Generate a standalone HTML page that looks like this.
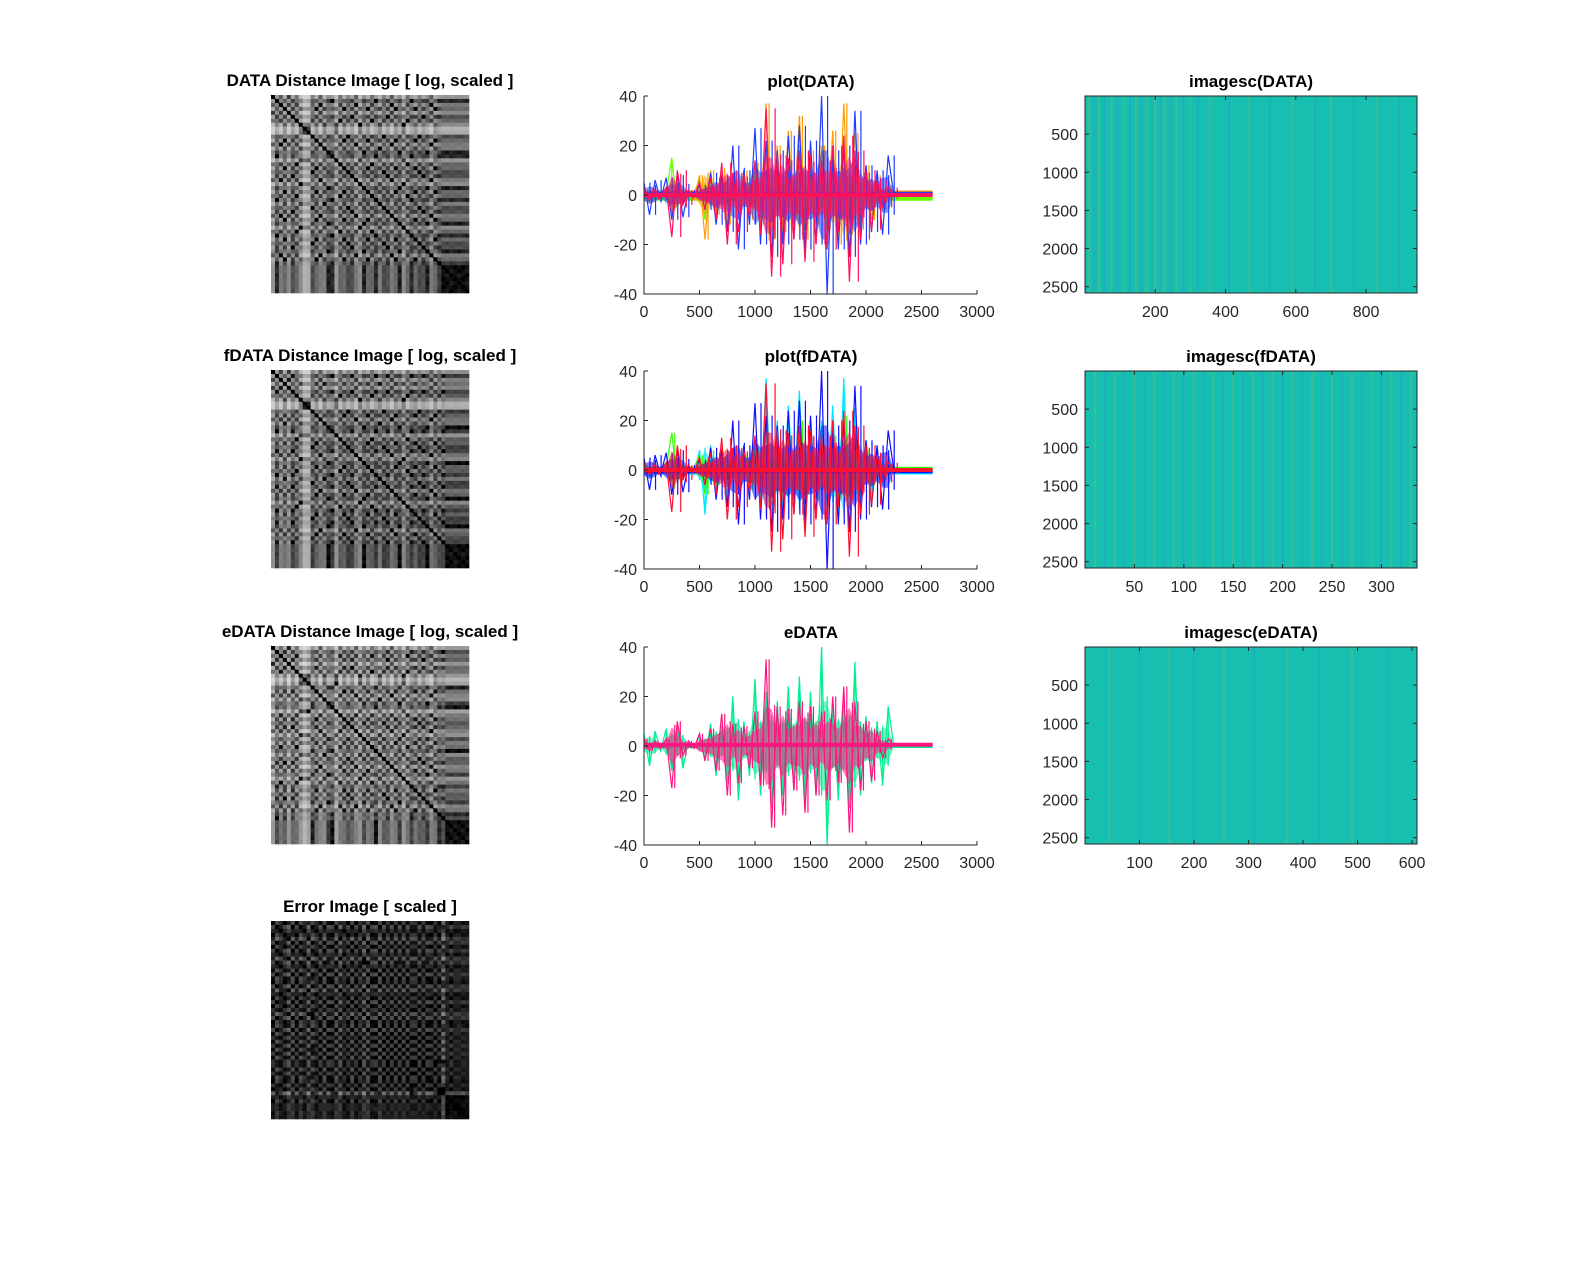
<!DOCTYPE html>
<html><head><meta charset="utf-8"><style>
html,body{margin:0;padding:0;background:#fff;overflow:hidden;}
svg{display:block;font-family:"Liberation Sans",Arial,sans-serif;}
.t{font-weight:bold;font-size:17px;fill:#000;text-anchor:middle;}
.tk{font-size:16px;fill:#262626;}
</style></head><body>
<svg id="fig" width="1583" height="1270" viewBox="0 0 1583 1270" xmlns="http://www.w3.org/2000/svg">
<rect width="1583" height="1270" fill="#fff"/>
</svg>
<script>
// ---------- data ----------
const lineX = [0,50,100,150,200,250,300,350,400,450,500,550,600,650,700,750,800,850,900,950,1000,1050,1100,1150,1200,1250,1300,1350,1400,1450,1500,1550,1600,1650,1700,1750,1800,1850,1900,1950,2000,2050,2100,2150,2200,2250];
const seriesBlue = [5,-8,6,-2,7,-10,8,-9,2,-1,4,-6,9,-12,8,-15,20,-22,10,-12,27,-20,22,-25,18,-20,24,-18,28,-22,22,-20,40,-40,18,-22,20,-25,34,-20,12,-15,10,-16,16,0];
const seriesOrange = [2,-3,2,-1,3,-4,3,-2,1,-2,8,-18,10,-8,11,-12,6,-8,10,-10,13,-12,37,-18,20,-15,26,-10,32,-18,18,-12,20,-14,26,-20,37,-16,25,-14,12,-10,8,-6,4,0];
const seriesRed = [3,-2,2,-1,3,-17,10,-4,2,-1,5,-6,7,-10,13,-20,9,-15,8,-9,14,-16,35,-33,16,-28,15,-18,18,-27,16,-20,14,-22,20,-15,24,-35,18,-18,10,-14,6,-5,3,0];
const seriesGreen = [2,-1,1,0,1,15,-5,2,-1,1,6,-10,8,-6,5,-4,3,-5,6,-8,9,-6,10,-8,12,-10,12,-8,20,-10,14,-12,10,-8,14,-12,22,-12,12,-10,8,-6,5,-4,2,0];
const yTicks = [-40,-20,0,20,40];
const xTicks = [0,500,1000,1500,2000,2500,3000];

const featData = [0.2,0.5,0.3,0.6,0.25,0.55,0.35,0.7,0.9,0.85,0.4,0.6,0.3,0.65,0.45,0.5,0.75,0.35,0.6,0.4,0.55,0.3,0.7,0.45,0.6,0.35,0.5,0.65,0.4,0.55,0.3,0.6,0.45,0.7,0.35,0.5,0.6,0.4,0.55,0.45,0.3,0.6,0.52,0.47,0.46,0.48,0.47,0.46,0.47,0.48];
const featF = [0.22,0.52,0.28,0.62,0.27,0.53,0.37,0.68,0.88,0.86,0.42,0.58,0.32,0.63,0.47,0.52,0.73,0.37,0.58,0.42,0.53,0.32,0.68,0.47,0.58,0.37,0.52,0.63,0.42,0.53,0.32,0.58,0.47,0.68,0.37,0.52,0.58,0.42,0.53,0.47,0.32,0.58,0.4,0.53,0.47,0.46,0.48,0.47,0.46,0.47];
const featE = [0.18,0.55,0.32,0.58,0.2,0.6,0.33,0.75,0.92,0.8,0.45,0.62,0.27,0.7,0.42,0.48,0.8,0.3,0.62,0.38,0.6,0.28,0.73,0.4,0.65,0.33,0.47,0.7,0.37,0.58,0.27,0.64,0.42,0.74,0.32,0.53,0.63,0.37,0.58,0.42,0.28,0.63,0.5,0.55,0.47,0.46,0.48,0.47,0.46,0.48];

const stripesData = [12,25,40,55,75,92,110,128,145,160,175,190,200,215,225,245,260,280,300,320,355,410,465,525,590,655,700,765,830,895];
const stripesF = [10,20,30,40,50,60,70,80,90,100,110,120,130,140,150,160,170,180,190,200,210,220,230,240,250,260,270,280,290,300,310,320,330];
const stripesE = [45,100,155,200,255,310,370,430,490,555];
// ---------- drawing ----------
const NS="http://www.w3.org/2000/svg", svg=document.getElementById('fig');
function mk(tag,attrs,parent){const e=document.createElementNS(NS,tag);for(const k in attrs)e.setAttribute(k,attrs[k]);(parent||svg).appendChild(e);return e;}
function txt(s,x,y,cls,anchor,parent){const e=mk('text',{x:x,y:y,class:cls,'text-anchor':anchor||'middle'},parent);e.textContent=s;return e;}

function distImage(name,title,top,fa,fb,isErr){
  const g=mk('g',{});
  
  
  const t=txt(title,370,top-9,'t','middle',g);
  
  
  const n=fa.length, L=271, W=198, c=W/n;
  for(let i=0;i<n;i++)for(let j=0;j<n;j++){
    let v;
    if(!isErr){const d=Math.abs(fa[i]-fa[j]);v=Math.log(1+25*d)/Math.log(26);v=Math.min(1,v*1.05);}
    else{const d1=Math.abs(fa[i]-fa[j]),d2=Math.abs(fb[i]-fb[j]);v=Math.min(1,Math.abs(d1-d2)*4.5);}
    const gr=Math.round(v*225);
    const r=mk('rect',{x:(L+j*c).toFixed(2),y:(top+i*c).toFixed(2),width:(c+0.3).toFixed(2),height:(c+0.3).toFixed(2),fill:`rgb(${gr},${gr},${gr})`},g);
    
    
  }
  if(!isErr){const dg=mk('line',{x1:L,y1:top,x2:L+W,y2:top+W,stroke:'#000','stroke-width':1.2},g);
    
    }
}
distImage('data-distance-image','DATA Distance Image [ log, scaled ]',95,featData,null,false);
distImage('fdata-distance-image','fDATA Distance Image [ log, scaled ]',370,featF,null,false);
distImage('edata-distance-image','eDATA Distance Image [ log, scaled ]',646,featE,null,false);
distImage('error-image','Error Image [ scaled ]',921,featData,featE,true);

function linePlot(name,title,top,layers){
  const g=mk('g',{});
  
  
  const L=644,R=977,H=198;
  const sx=v=>L+(v/3000)*(R-L), sy=v=>top+(40-v)/80*H;
  const t=txt(title,811,top-9,'t','middle',g);
  
  
  const cp=mk('clipPath',{id:'cp'+name},g);mk('rect',{x:L,y:top,width:R-L,height:H},cp);
  const pg=mk('g',{'clip-path':`url(#cp${name})`},g);
  layers.forEach((ly,k)=>{
    // dense core band
    const up=lineX.map((x,i)=>`${sx(x).toFixed(1)},${sy(Math.abs(ly.data[i])*0.45).toFixed(1)}`);
    const dn=lineX.map((x,i)=>`${sx(x).toFixed(1)},${sy(-Math.abs(ly.data[i])*0.45).toFixed(1)}`).reverse();
    const a=mk('polygon',{points:up.concat(dn).join(' '),fill:ly.color,opacity:0.55},pg);
    
    
    // vertical spike bars
    lineX.forEach((x,i)=>{
      const s=mk('line',{x1:sx(x)+k*3,x2:sx(x)+k*3,y1:sy(ly.data[i]),y2:sy(-ly.data[i]*0.5),stroke:ly.color,'stroke-width':1.2},pg);
      
      
    });
    let pts=lineX.map((x,i)=>`${sx(x).toFixed(1)},${sy(ly.data[i]).toFixed(1)}`);
    pts.push(`${sx(2600).toFixed(1)},${sy(ly.off).toFixed(1)}`);
    const p=mk('polyline',{points:pts.join(' '),fill:'none',stroke:ly.color,'stroke-width':1.2},pg);
    
    
    const b=mk('line',{x1:sx(0),y1:sy(ly.off),x2:sx(2600),y2:sy(ly.off),stroke:ly.color,'stroke-width':4},pg);
    
    
  });
  const ax=mk('path',{d:`M${L},${top}V${top+H}H${R}`,fill:'none',stroke:'#262626','stroke-width':1},g);
  
  
  yTicks.forEach(v=>{mk('line',{x1:L,x2:L+4,y1:sy(v),y2:sy(v),stroke:'#262626'},g);
    const e=txt(String(v),L-7,sy(v)+6,'tk','end',g);
    
    });
  xTicks.forEach(v=>{mk('line',{x1:sx(v),x2:sx(v),y1:top+H,y2:top+H-4,stroke:'#262626'},g);
    const e=txt(String(v),sx(v),top+H+23,'tk','middle',g);
    
    });
}
linePlot('plot-data','plot(DATA)',96,[
  {label:'green',color:'#66ff00',data:seriesGreen,off:-1.5},
  {label:'orange',color:'#ff9a00',data:seriesOrange,off:1},
  {label:'blue',color:'#1f3cff',data:seriesBlue,off:0.5},
  {label:'red',color:'#ff1058',data:seriesRed,off:0}]);
linePlot('plot-fdata','plot(fDATA)',371,[
  {label:'cyan',color:'#00e8ff',data:seriesOrange,off:-1},
  {label:'green',color:'#30ff00',data:seriesGreen,off:0.5},
  {label:'blue',color:'#1010ff',data:seriesBlue,off:-0.5},
  {label:'red',color:'#ff1030',data:seriesRed,off:0}]);
linePlot('plot-edata','eDATA',647,[
  {label:'green',color:'#00f090',data:seriesBlue,off:0},
  {label:'pink',color:'#ff1480',data:seriesRed,off:0.5}]);

function heat(name,title,top,maxX,xt,stripes){
  const g=mk('g',{});
  
  
  const L=1085,R=1417,H=197;
  const sx=v=>L+(v/maxX)*(R-L), sy=v=>top+(v/2583)*H;
  const t=txt(title,1251,top-9,'t','middle',g);
  
  
  const bg=mk('rect',{x:L,y:top,width:R-L,height:H,fill:'#17bfb1'},g);
  
  
  stripes.forEach((s,i)=>{
    const r=mk('rect',{x:sx(s)-1,y:top,width:2,height:H,fill:i%2?'#2aa0c8':'#5cc080',opacity:0.5},g);
    
    
  });
  const b=mk('rect',{x:L,y:top,width:R-L,height:H,fill:'none',stroke:'#262626','stroke-width':1},g);
  
  
  [500,1000,1500,2000,2500].forEach(v=>{
    mk('line',{x1:L,x2:L+4,y1:sy(v),y2:sy(v),stroke:'#262626'},g);
    mk('line',{x1:R,x2:R-4,y1:sy(v),y2:sy(v),stroke:'#262626'},g);
    const e=txt(String(v),L-7,sy(v)+6,'tk','end',g);
    
    });
  xt.forEach(v=>{
    mk('line',{x1:sx(v),x2:sx(v),y1:top+H,y2:top+H-4,stroke:'#262626'},g);
    mk('line',{x1:sx(v),x2:sx(v),y1:top,y2:top+4,stroke:'#262626'},g);
    const e=txt(String(v),sx(v),top+H+24,'tk','middle',g);
    
    });
}
heat('imagesc-data','imagesc(DATA)',96,945,[200,400,600,800],stripesData);
heat('imagesc-fdata','imagesc(fDATA)',371,336,[50,100,150,200,250,300],stripesF);
heat('imagesc-edata','imagesc(eDATA)',647,609,[100,200,300,400,500,600],stripesE);
</script>
</body></html>
